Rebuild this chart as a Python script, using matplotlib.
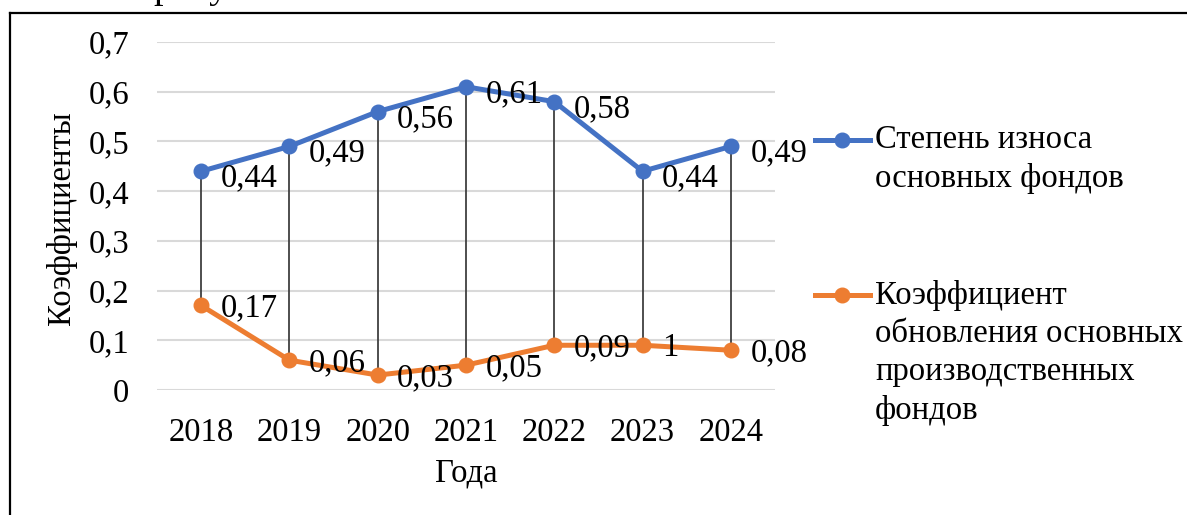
import matplotlib.pyplot as plt
from matplotlib.lines import Line2D

plt.rcParams['font.family'] = ['Liberation Serif', 'DejaVu Serif']

years = ['2018', '2019', '2020', '2021', '2022', '2023', '2024']
wear = [0.44, 0.49, 0.56, 0.61, 0.58, 0.44, 0.49]
renewal = [0.17, 0.06, 0.03, 0.05, 0.09, 0.09, 0.08]
wear_labels = ['0,44', '0,49', '0,56', '0,61', '0,58', '0,44', '0,49']
renewal_labels = ['0,17', '0,06', '0,03', '0,05', '0,09', '1', '0,08']
yticks = [0, 0.1, 0.2, 0.3, 0.4, 0.5, 0.6, 0.7]
ytick_labels = ['0', '0,1', '0,2', '0,3', '0,4', '0,5', '0,6', '0,7']

blue = '#4472C4'
orange = '#ED7D31'
fs = 23.5

fig = plt.figure(figsize=(11.87, 5.15), dpi=100)
ax = fig.add_axes([157/1187, 1 - 390/515, (775 - 157)/1187, (390 - 42)/515])

x = range(len(years))
ax.vlines(x, renewal, wear, color='#404040', lw=1.3, zorder=2)
ax.plot(x, wear, color=blue, lw=3.6, marker='o', ms=10.5, zorder=3)
ax.plot(x, renewal, color=orange, lw=3.6, marker='o', ms=10.5, zorder=3)

for i in x:
    ax.annotate(wear_labels[i], (i, wear[i]), xytext=(14, -5), textcoords='offset points',
                ha='left', va='center', fontsize=fs, zorder=4)
    ax.annotate(renewal_labels[i], (i, renewal[i]), xytext=(14, -2), textcoords='offset points',
                ha='left', va='center', fontsize=fs, zorder=4)

ax.set_xlim(-0.5, len(years) - 0.5)
ax.set_ylim(0, 0.7)
ax.set_xticks(list(x))
ax.set_xticklabels(years, fontsize=fs)
ax.set_yticks(yticks)
ax.set_yticklabels(ytick_labels, fontsize=fs)
ax.tick_params(length=0)
ax.tick_params(axis='y', pad=20)
ax.tick_params(axis='x', pad=20)
ax.grid(axis='y', color='#D9D9D9', lw=1.5)
ax.set_axisbelow(True)
for s in ax.spines.values():
    s.set_visible(False)
ax.set_xlabel('Года', fontsize=fs, labelpad=7)
fig.text(62/1187, 1 - 218/515, 'Коэффициенты', rotation=90, fontsize=fs,
         ha='center', va='center')

# legend drawn by hand so the marker sits on the first text line
for y_px, color, label in [(140, blue, 'Степень износа\nосновных фондов'),
                           (295, orange, 'Коэффициент\nобновления основных\nпроизводственных\nфондов')]:
    yf = 1 - y_px/515
    fig.add_artist(Line2D([815/1187, 870/1187], [yf, yf], color=color, lw=3.6))
    fig.add_artist(Line2D([842/1187], [yf], color=color, marker='o', ms=10.5))
    fig.text(875/1187, 1 - (y_px - 15)/515, label, fontsize=fs, ha='left', va='top',
             linespacing=1.32)

# frame and cut-off text above it
fig.add_artist(Line2D([10/1187, 1], [1 - 13/515, 1 - 13/515], color='black', lw=1.6))
fig.add_artist(Line2D([10/1187, 10/1187], [0, 1 - 13/515], color='black', lw=1.6))
fig.text(153/1187, 1 + 2/515, 'рисунке', fontsize=fs + 4, ha='left', va='baseline')

fig.savefig('out.png', dpi=100)
